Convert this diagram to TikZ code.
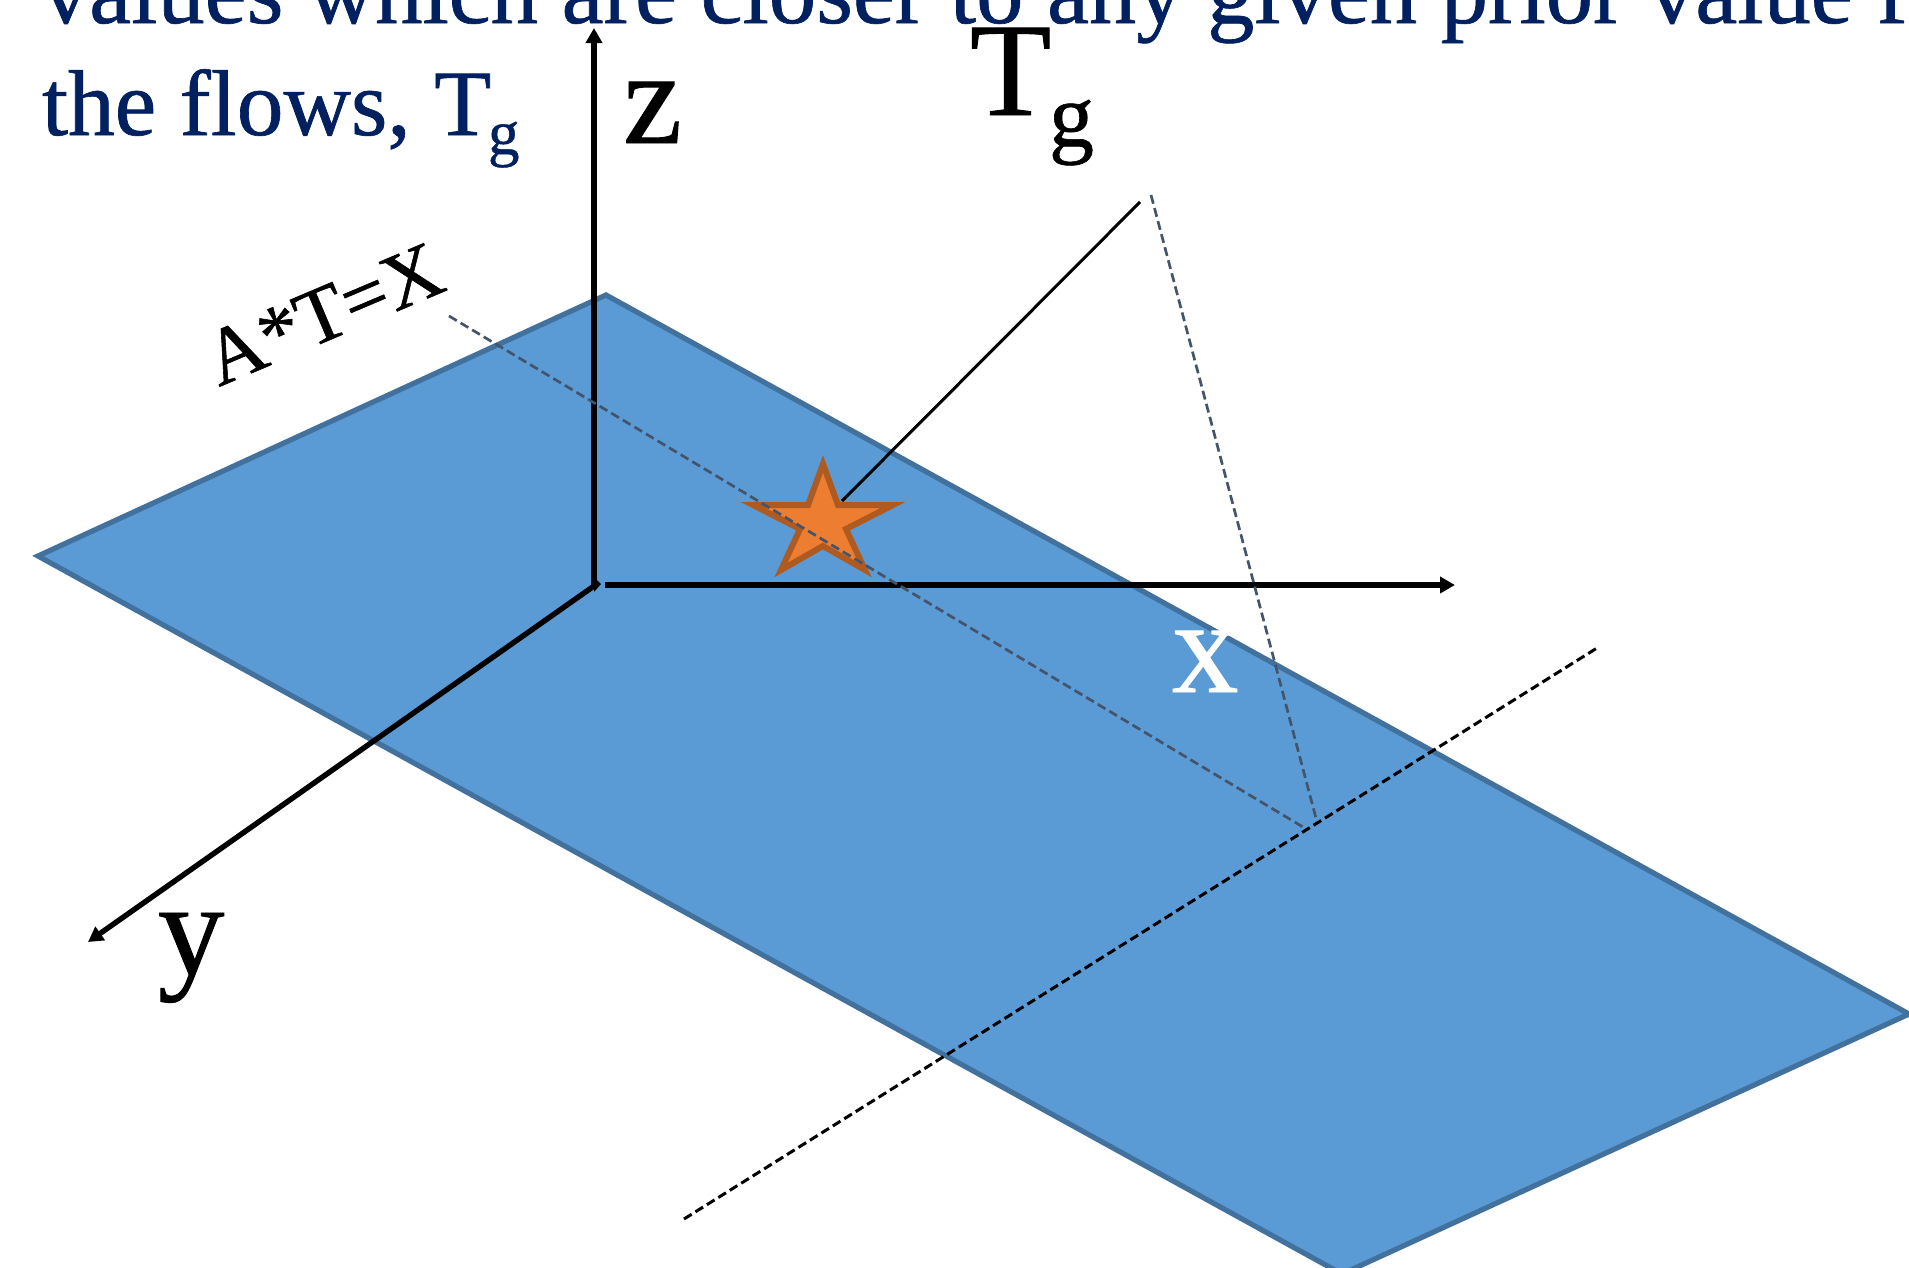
\documentclass[tikz,border=0pt]{standalone}
\usepackage{fontspec}
\setmainfont{Liberation Serif}
\newfontfamily\heavy[FakeBold=0.7]{Liberation Serif}
\usetikzlibrary{arrows.meta}
\definecolor{navy}{HTML}{002060}
\definecolor{planefill}{HTML}{5B9BD5}
\definecolor{planeedge}{HTML}{41719C}
\definecolor{starfill}{HTML}{ED7D31}
\definecolor{staredge}{HTML}{AE5A21}
\definecolor{guide}{HTML}{44546A}
\tikzset{
  px/.style={x=1pt,y=-1pt},
  axisline/.style={black,line width=5.4pt,-{Triangle[length=15pt,width=16pt]}},
  guideline/.style={guide,line width=2.7pt,dash pattern=on 9pt off 4.5pt},
  blackdash/.style={black,line width=3pt,dash pattern=on 9pt off 4.5pt},
  label/.style={inner sep=0pt,outer sep=0pt,anchor=base west,font=\heavy},
}
\newcommand{\fsz}[1]{\fontsize{#1}{#1}\selectfont}
\begin{document}
\begin{tikzpicture}[px]
\useasboundingbox (0,0) rectangle (1909,1267);
\clip (0,0) rectangle (1909,1267);
% plane
\draw[fill=planefill,draw=planeedge,line width=5.2pt,line join=miter]
  (606,295) -- (38,556) -- (1342,1274) -- (1909,1014) -- cycle;
% coordinates
\coordinate (O) at (594,586);
\coordinate (Zt) at (594,28);
\coordinate (Xs) at (605,585);
\coordinate (Xt) at (1455,585);
\coordinate (Yt) at (88,942);
\coordinate (G0) at (449,316);
\coordinate (G1) at (1303,827);
\coordinate (G2) at (1151,195);
\coordinate (G3) at (1317,822);
\coordinate (B0) at (684,1219);
\coordinate (B1) at (1597,648);
\coordinate (L0) at (1140,202);
\coordinate (L1) at (842,501);
% axes
\draw[axisline] (O) -- (Zt);
\draw[axisline] (Xs) -- (Xt);
\draw[axisline] (O) -- (Yt);
\fill[black] (594,577) -- (601,584) -- (594,592) -- cycle;
% star
\draw[fill=starfill,draw=staredge,line width=6pt,line join=miter,miter limit=10]
  (823,464) -- (838,505) -- (893,505) -- (846,529) -- (865,570) -- (823,546)
  -- (781,570) -- (800,529) -- (753,505) -- (808,505) -- cycle;
% lines
\draw[guideline] (G0) -- (G1);
\draw[guideline] (G2) -- (G3);
\draw[blackdash] (B0) -- (B1);
\draw[black,line width=3pt] (L0) -- (L1);
% text
\node[label,text=navy] (t1) at (42,23) {\fsz{94.5}values which are closer to any given prior value for};
\node[label,text=navy] (t2) at (42,135) {\fsz{93.5}the flows, T};
\node[label,text=navy] (t3) at (488,154) {\fsz{63}g};
\node[label] (z) at (623,143) {\fsz{133}z};
\node[label] (T) at (970,115) {\fsz{133}T};
\node[label] (g) at (1049,146) {\fsz{90}g};
\node[label] (y) at (158,974) {\fsz{133}y};
\node[label,text=white] (x) at (1172,692) {\fsz{133}x};
\node[label,rotate=23] (eq) at (219,387) {\fsz{80}A*T=X};
\end{tikzpicture}
\end{document}
